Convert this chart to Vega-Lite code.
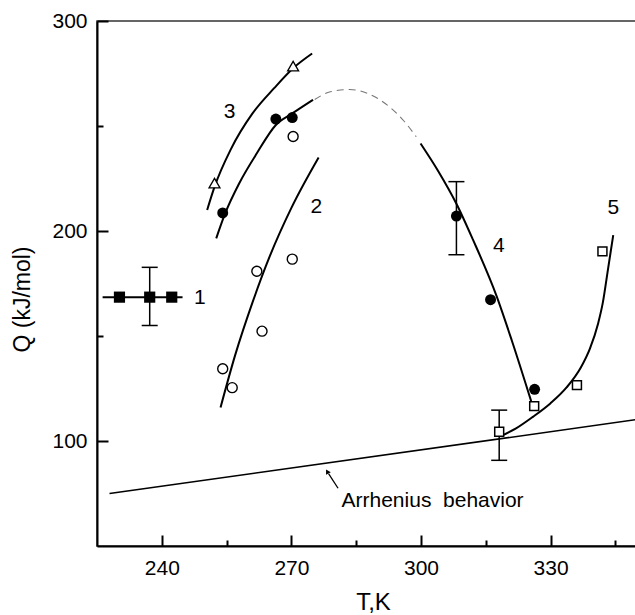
{
  "$schema": "https://vega.github.io/schema/vega-lite/v6.json",
  "autosize": {"type": "none"},
  "padding": {"left": 97, "top": 21, "right": 0, "bottom": 69},
  "width": 540,
  "height": 525,
  "background": "white",
  "config": {"font": "Liberation Sans", "view": {"stroke": "#333", "strokeWidth": 1.5}},
  "datasets": {
    "curves": [
      {"s": "c3", "T": 250.5, "Q": 210}, {"s": "c3", "T": 252.2, "Q": 221}, {"s": "c3", "T": 256, "Q": 239}, {"s": "c3", "T": 261, "Q": 256}, {"s": "c3", "T": 266, "Q": 268}, {"s": "c3", "T": 270.4, "Q": 277.5}, {"s": "c3", "T": 274.8, "Q": 284.5},
      {"s": "c4a", "T": 252.6, "Q": 196.5}, {"s": "c4a", "T": 254.6, "Q": 208}, {"s": "c4a", "T": 258, "Q": 223}, {"s": "c4a", "T": 262, "Q": 237}, {"s": "c4a", "T": 266.4, "Q": 250.5}, {"s": "c4a", "T": 270.2, "Q": 256}, {"s": "c4a", "T": 275, "Q": 262.5},
      {"s": "c4b", "T": 299.9, "Q": 241.7}, {"s": "c4b", "T": 304, "Q": 228.5}, {"s": "c4b", "T": 308.2, "Q": 213}, {"s": "c4b", "T": 312, "Q": 196}, {"s": "c4b", "T": 317.5, "Q": 169}, {"s": "c4b", "T": 321, "Q": 148}, {"s": "c4b", "T": 325.5, "Q": 119},
      {"s": "c2", "T": 253.6, "Q": 116}, {"s": "c2", "T": 257, "Q": 141}, {"s": "c2", "T": 261, "Q": 166}, {"s": "c2", "T": 265, "Q": 188}, {"s": "c2", "T": 270, "Q": 211}, {"s": "c2", "T": 276.3, "Q": 235},
      {"s": "c5", "T": 318.6, "Q": 102.4}, {"s": "c5", "T": 322, "Q": 106}, {"s": "c5", "T": 325.9, "Q": 111.5}, {"s": "c5", "T": 330, "Q": 118}, {"s": "c5", "T": 333.7, "Q": 125.5}, {"s": "c5", "T": 337, "Q": 135}, {"s": "c5", "T": 339.1, "Q": 144}, {"s": "c5", "T": 341, "Q": 156}, {"s": "c5", "T": 342.1, "Q": 166}, {"s": "c5", "T": 343.3, "Q": 182}, {"s": "c5", "T": 344.5, "Q": 198},
      {"s": "h1", "T": 226.3, "Q": 168.5}, {"s": "h1", "T": 244.8, "Q": 168.5}
    ],
    "arr": [{"T": 227.9, "Q": 75}, {"T": 350, "Q": 110.2}],
    "dash": [
      {"T": 275.4, "Q": 262.6}, {"T": 279, "Q": 266.3}, {"T": 283.5, "Q": 267.4}, {"T": 288, "Q": 265.2}, {"T": 292.7, "Q": 259.1}, {"T": 296, "Q": 252.5}, {"T": 298.9, "Q": 244.9}
    ],
    "arrow": [{"T": 280.8, "Q": 77.5, "T2": 278.6, "Q2": 84.5}],
    "arrowhead": [{"T": 278.3, "Q": 85.5}],
    "err": [
      {"T": 237.2, "lo": 155, "hi": 182.7},
      {"T": 308.2, "lo": 188.7, "hi": 223.5},
      {"T": 318.1, "lo": 90.8, "hi": 114.7}
    ],
    "fsq": [{"T": 230.2, "Q": 168.5}, {"T": 237.2, "Q": 168.5}, {"T": 242.3, "Q": 168.5}],
    "tri": [{"T": 252.2, "Q": 222.8}, {"T": 270.4, "Q": 278.5}],
    "fci": [{"T": 254.1, "Q": 208.6}, {"T": 266.4, "Q": 253.3}, {"T": 270.2, "Q": 254}, {"T": 308.2, "Q": 207.1}, {"T": 316.1, "Q": 167.3}, {"T": 326.3, "Q": 124.6}],
    "oci": [{"T": 270.4, "Q": 245}, {"T": 270.2, "Q": 186.6}, {"T": 262.0, "Q": 180.8}, {"T": 263.2, "Q": 152.3}, {"T": 254.1, "Q": 134.4}, {"T": 256.3, "Q": 125.4}],
    "osq": [{"T": 318.1, "Q": 104.4}, {"T": 326.2, "Q": 116.6}, {"T": 336.1, "Q": 126.6}, {"T": 342.0, "Q": 190.3}],
    "labels": [
      {"T": 248.8, "Q": 168.3, "txt": "1"},
      {"T": 275.8, "Q": 211.6, "txt": "2"},
      {"T": 255.7, "Q": 256.5, "txt": "3"},
      {"T": 318, "Q": 193, "txt": "4"},
      {"T": 344.5, "Q": 210.9, "txt": "5"}
    ],
    "note": [{"T": 281.6, "Q": 71.4, "txt": "Arrhenius\u00a0 behavior"}]
  },
  "layer": [
    {
      "data": {"name": "curves"},
      "mark": {"type": "line", "interpolate": "monotone", "color": "black", "strokeWidth": 2},
      "encoding": {
        "x": {"field": "T", "type": "quantitative", "scale": {"domain": [225, 350], "nice": false, "zero": false},
          "axis": {"orient": "bottom", "values": [240, 270, 300, 330], "format": "d", "title": "T,K", "titleFont": "Liberation Sans", "titleFontSize": 24, "titleFontWeight": "normal", "titleColor": "black", "titleX": 276, "titleY": 56, "titleBaseline": "middle", "titleAlign": "center", "labelFont": "Liberation Sans", "labelFontSize": 21, "labelColor": "black", "labelPadding": 22, "tickSize": -11, "tickWidth": 2, "tickColor": "black", "domainColor": "black", "domainWidth": 2, "grid": false}},
        "y": {"field": "Q", "type": "quantitative", "scale": {"domain": [50, 300], "nice": false, "zero": false},
          "axis": {"orient": "left", "values": [100, 200, 300], "format": "d", "title": "Q (kJ/mol)", "titleFont": "Liberation Sans", "titleFontSize": 23, "titleFontWeight": "normal", "titleColor": "black", "titleX": -75, "titleY": 278, "titleAngle": 270, "titleBaseline": "middle", "titleAlign": "center", "labelFont": "Liberation Sans", "labelFontSize": 21, "labelColor": "black", "labelPadding": 21, "tickSize": -11, "tickWidth": 2, "tickColor": "black", "domainColor": "black", "domainWidth": 2, "grid": false}},
        "detail": {"field": "s"}
      }
    },
    {
      "data": {"name": "arr"},
      "mark": {"type": "line", "color": "black", "strokeWidth": 1.5},
      "encoding": {
        "x": {"field": "T", "type": "quantitative", "axis": {"orient": "bottom", "values": [255, 285, 315, 345], "labels": false, "domain": false, "title": null, "grid": false, "tickSize": -6, "tickWidth": 2, "tickColor": "black"}},
        "y": {"field": "Q", "type": "quantitative", "axis": {"orient": "left", "values": [150, 250], "labels": false, "domain": false, "title": null, "grid": false, "tickSize": -6, "tickWidth": 2, "tickColor": "black"}}
      }
    },
    {
      "data": {"name": "dash"},
      "mark": {"type": "line", "interpolate": "monotone", "color": "#777", "strokeWidth": 1.1, "strokeDash": [7, 5]},
      "encoding": {
        "x": {"field": "T", "type": "quantitative", "axis": null},
        "y": {"field": "Q", "type": "quantitative", "axis": null}
      }
    },
    {
      "data": {"name": "arrow"},
      "mark": {"type": "rule", "color": "black", "strokeWidth": 1.3},
      "encoding": {
        "x": {"field": "T", "type": "quantitative", "axis": null},
        "y": {"field": "Q", "type": "quantitative", "axis": null},
        "x2": {"field": "T2"},
        "y2": {"field": "Q2"}
      }
    },
    {
      "data": {"name": "arrowhead"},
      "mark": {"type": "point", "shape": "triangle-up", "filled": true, "color": "black", "size": 30, "angle": -30, "opacity": 1},
      "encoding": {
        "x": {"field": "T", "type": "quantitative", "axis": null},
        "y": {"field": "Q", "type": "quantitative", "axis": null}
      }
    },
    {
      "data": {"name": "err"},
      "mark": {"type": "rule", "color": "black", "strokeWidth": 1.5},
      "encoding": {
        "x": {"field": "T", "type": "quantitative", "axis": null},
        "y": {"field": "lo", "type": "quantitative", "axis": null},
        "y2": {"field": "hi"}
      }
    },
    {
      "data": {"name": "err"},
      "mark": {"type": "tick", "orient": "horizontal", "color": "black", "size": 16, "thickness": 1.5, "opacity": 1},
      "encoding": {
        "x": {"field": "T", "type": "quantitative", "axis": null},
        "y": {"field": "lo", "type": "quantitative", "axis": null}
      }
    },
    {
      "data": {"name": "err"},
      "mark": {"type": "tick", "orient": "horizontal", "color": "black", "size": 16, "thickness": 1.5, "opacity": 1},
      "encoding": {
        "x": {"field": "T", "type": "quantitative", "axis": null},
        "y": {"field": "hi", "type": "quantitative", "axis": null}
      }
    },
    {
      "data": {"name": "fsq"},
      "mark": {"type": "point", "shape": "square", "filled": true, "color": "black", "size": 125, "opacity": 1},
      "encoding": {
        "x": {"field": "T", "type": "quantitative", "axis": null},
        "y": {"field": "Q", "type": "quantitative", "axis": null}
      }
    },
    {
      "data": {"name": "fci"},
      "mark": {"type": "point", "shape": "circle", "filled": true, "color": "black", "size": 120, "opacity": 1},
      "encoding": {
        "x": {"field": "T", "type": "quantitative", "axis": null},
        "y": {"field": "Q", "type": "quantitative", "axis": null}
      }
    },
    {
      "data": {"name": "tri"},
      "mark": {"type": "point", "shape": "triangle-up", "filled": true, "fill": "white", "stroke": "black", "strokeWidth": 1.3, "size": 120, "opacity": 1},
      "encoding": {
        "x": {"field": "T", "type": "quantitative", "axis": null},
        "y": {"field": "Q", "type": "quantitative", "axis": null}
      }
    },
    {
      "data": {"name": "oci"},
      "mark": {"type": "point", "shape": "circle", "filled": true, "fill": "white", "stroke": "black", "strokeWidth": 1.4, "size": 100, "opacity": 1},
      "encoding": {
        "x": {"field": "T", "type": "quantitative", "axis": null},
        "y": {"field": "Q", "type": "quantitative", "axis": null}
      }
    },
    {
      "data": {"name": "osq"},
      "mark": {"type": "point", "shape": "square", "filled": true, "fill": "white", "stroke": "black", "strokeWidth": 1.5, "size": 80, "opacity": 1},
      "encoding": {
        "x": {"field": "T", "type": "quantitative", "axis": null},
        "y": {"field": "Q", "type": "quantitative", "axis": null}
      }
    },
    {
      "data": {"name": "labels"},
      "mark": {"type": "text", "font": "Liberation Sans", "fontSize": 21, "color": "black", "align": "center", "baseline": "middle"},
      "encoding": {
        "x": {"field": "T", "type": "quantitative", "axis": null},
        "y": {"field": "Q", "type": "quantitative", "axis": null},
        "text": {"field": "txt"}
      }
    },
    {
      "data": {"name": "note"},
      "mark": {"type": "text", "font": "Liberation Sans", "fontSize": 21, "color": "black", "align": "left", "baseline": "middle"},
      "encoding": {
        "x": {"field": "T", "type": "quantitative", "axis": null},
        "y": {"field": "Q", "type": "quantitative", "axis": null},
        "text": {"field": "txt"}
      }
    }
  ],
  "resolve": {"axis": {"x": "independent", "y": "independent"}}
}
